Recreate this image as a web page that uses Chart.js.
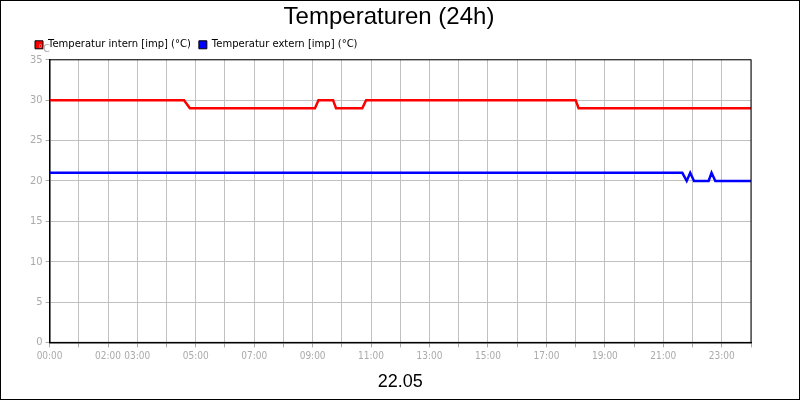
<!DOCTYPE html>
<html>
<head>
<meta charset="utf-8">
<script src="https://cdn.jsdelivr.net/npm/chart.js@4/dist/chart.umd.min.js"></script>
<style>
  body { margin: 0; }
  #wrap { position: relative; width: 798px; height: 398px; border: 1px solid #000; background: #fff; }
  #unit { position: absolute; left: 37px; top: 42px; font: 10px "DejaVu Sans", sans-serif; color: #aaa; }
</style>
</head>
<body>
<div id="wrap">
  <canvas id="chart" width="798" height="398"></canvas>
  <div id="unit">°C</div>
</div>
<script>
// hours since 00:00
const internHours = [0, 4.6, 4.8, 9.08, 9.2, 9.7, 9.8, 10.7, 10.83, 18.0, 18.1, 24];
const internTemps = [30, 30, 29, 29, 30, 30, 29, 29, 30, 30, 29, 29];
const externHours = [0, 21.65, 21.8, 21.92, 22.05, 22.55, 22.65, 22.78, 24];
const externTemps = [21, 21, 20, 21, 20, 20, 21, 20, 20];
const labeledHours = [0, 2, 3, 5, 7, 9, 11, 13, 15, 17, 19, 21, 23];

function toPoints(xs, ys) {
    return xs.map((x, i) => ({ x: x, y: ys[i] }));
}

const gray = '#aaaaaa';
new Chart(document.getElementById('chart'), {
    type: 'scatter',
    data: {
        datasets: [
            {
                label: 'Temperatur intern [imp] (°C)',
                data: toPoints(internHours, internTemps),
                showLine: true,
                borderColor: '#ff0000',
                backgroundColor: '#ff0000',
                borderWidth: 2.5,
                pointRadius: 0
            },
            {
                label: 'Temperatur extern [imp] (°C)',
                data: toPoints(externHours, externTemps),
                showLine: true,
                borderColor: '#0000ff',
                backgroundColor: '#0000ff',
                borderWidth: 2.5,
                pointRadius: 0
            }
        ]
    },
    options: {
        responsive: false,
        animation: false,
        layout: { padding: { left: 26, right: 48, top: 0, bottom: 2 } },
        plugins: {
            title: {
                display: true,
                text: 'Temperaturen (24h)',
                color: '#000',
                font: { family: 'Liberation Sans', size: 24, weight: 'normal' },
                padding: { top: 2, bottom: 0 }
            },
            legend: {
                align: 'start',
                labels: {
                    boxWidth: 8, boxHeight: 8,
                    color: '#000',
                    font: { family: 'DejaVu Sans', size: 10 },
                    padding: 8,
                    generateLabels: chart => chart.data.datasets.map((d, i) => ({
                        text: d.label, fillStyle: d.borderColor, strokeStyle: '#000',
                        lineWidth: 1, datasetIndex: i
                    }))
                }
            },
            tooltip: { enabled: false }
        },
        scales: {
            x: {
                type: 'linear', min: 0, max: 24,
                afterBuildTicks: axis => {
                    axis.ticks = [];
                    for (let h = 0; h <= 24; h++) axis.ticks.push({ value: h });
                },
                ticks: {
                    autoSkip: false, maxRotation: 0, color: gray,
                    font: { family: 'DejaVu Sans Condensed', size: 10 },
                    callback: v => labeledHours.includes(v) ? String(v).padStart(2, '0') + ':00' : ''
                },
                grid: { color: '#c0c0c0', tickColor: gray, tickLength: 5 },
                border: { color: '#000', width: 1.5 },
                title: {
                    display: true, text: '22.05', color: '#000',
                    font: { family: 'Liberation Sans', size: 18 }, padding: { top: 6 }
                }
            },
            y: {
                min: 0, max: 35,
                ticks: {
                    stepSize: 5, color: gray,
                    font: { family: 'DejaVu Sans Condensed', size: 11 }
                },
                grid: { color: '#c0c0c0', tickColor: gray, tickLength: 4 },
                border: { color: '#000', width: 1.5 }
            }
        }
    },
    plugins: [{
        id: 'frame',
        afterDraw: chart => {
            const a = chart.chartArea, c = chart.ctx;
            c.save();
            c.strokeStyle = '#000';
            c.lineWidth = 1;
            c.strokeRect(a.left, a.top, a.right - a.left, a.bottom - a.top);
            c.restore();
        }
    }]
});
</script>
</body>
</html>
